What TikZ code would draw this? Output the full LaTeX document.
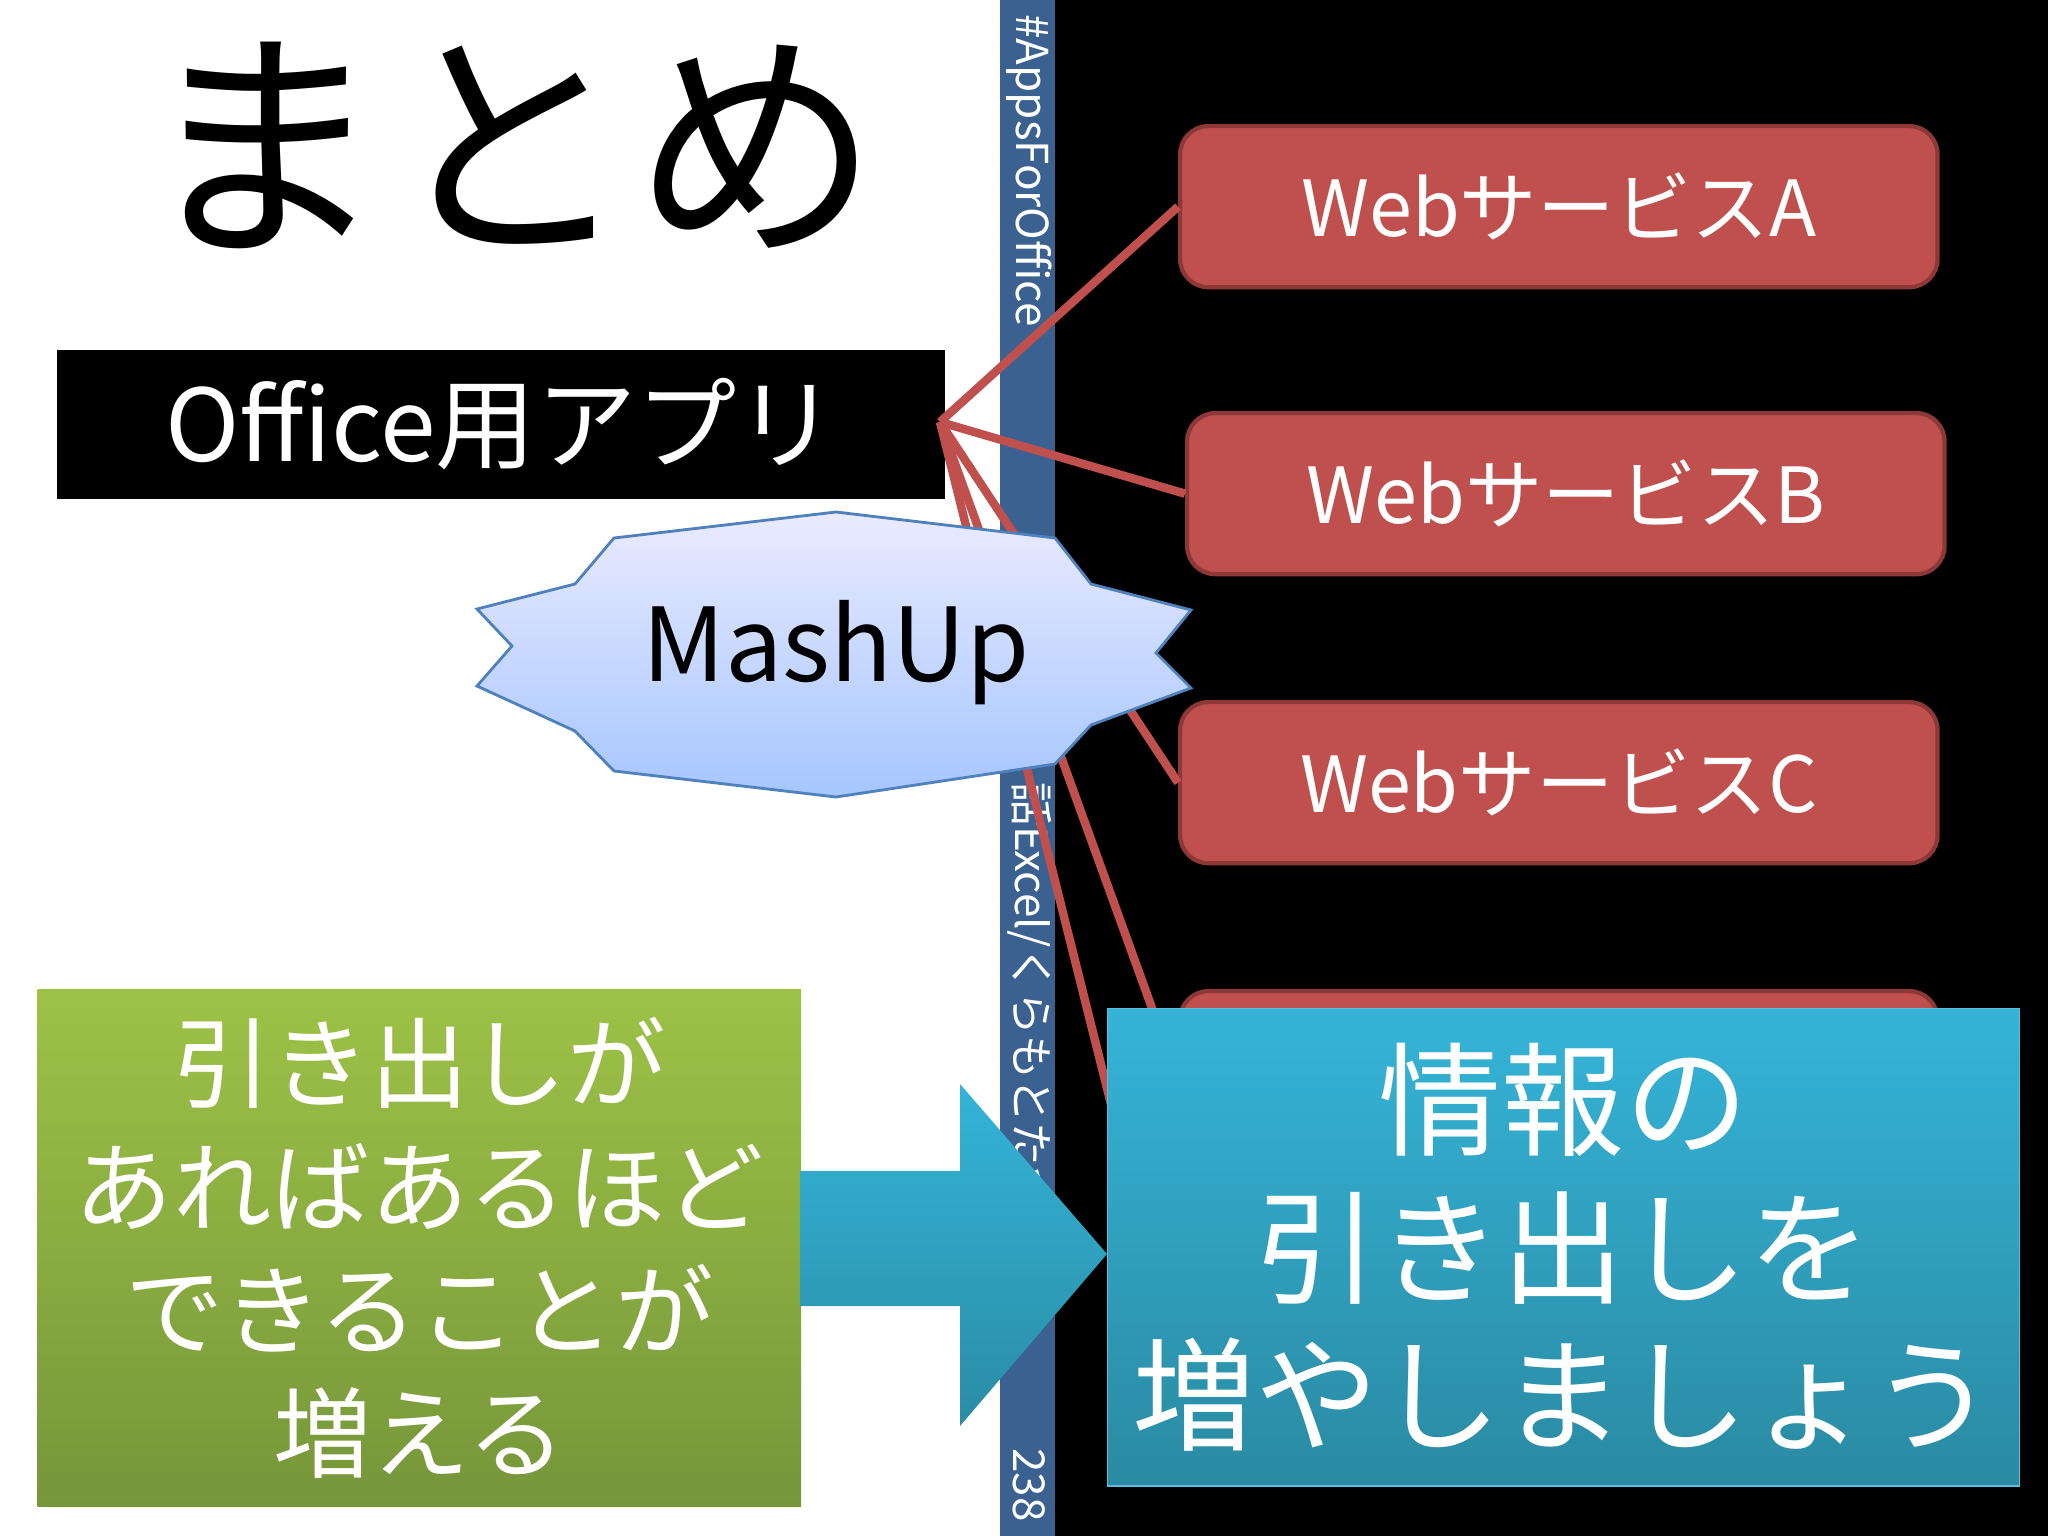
\documentclass[tikz,border=0pt]{standalone}
\usepackage{fontspec}
\setmainfont{Noto Sans CJK JP}
\begin{document}
\begin{tikzpicture}[x=0.01cm,y=-0.01cm,
  web/.style={draw=webedge,line width=1.2pt,fill=webred,rounded corners=8pt,minimum width=757\pxu,minimum height=161\pxu,text=white,font=\fontsize{22}{26}\selectfont,anchor=north west},
  link/.style={draw=webred,line width=2.4pt},
  striptext/.style={rotate=-90,text=white,font=\fontsize{12.5}{14}\selectfont}]
\def\pxu{*0.1mm}
\definecolor{webred}{HTML}{C0504D}
\definecolor{webedge}{HTML}{8C3836}
\definecolor{strip}{HTML}{3A6190}
\useasboundingbox (0,0) rectangle (2048,1536);
\fill[white] (0,0) rectangle (1000,1536);
\fill[strip] (1000,0) rectangle (1055,1536);
\fill[black] (1055,0) rectangle (2048,1536);
% strip texts
\node[striptext,anchor=west] (tag) at (1029,2) {\#AppsForOffice};
\node[striptext,anchor=west] (credit) at (1029,770) {話Excel/くらもとたつや (c)};
\node[striptext,anchor=east] (page) at (1029,1534) {238};
% title
\node[font=\fontsize{70}{74}\selectfont] (title) at (510,145) {まとめ};
% office box
\node[fill=black,text=white,minimum width=888\pxu,minimum height=149\pxu,anchor=north west,inner sep=0pt,font=\fontsize{28.5}{32}\selectfont] (office) at (56,349) {Office用アプリ};
\coordinate (hub) at (940,422);
% web boxes
\node[web] (wa) at (1178,124) {WebサービスA};
\node[web] (wb) at (1185,411) {WebサービスB};
\node[web] (wc) at (1178,700) {WebサービスC};
\node[web,minimum height=100\pxu] (wd) at (1178,989) {};
\coordinate (de) at (1178,1080);
\coordinate (ee) at (1135,1200);
\draw[link] (hub) -- (wa.west);
\draw[link] (hub) -- (wb.west);
\draw[link] (hub) -- (wc.west);
\draw[link] (hub) -- (de);
\draw[link] (hub) -- (ee);
% mashup
\shade[top color=blue!8!white,bottom color={rgb,255:red,165;green,198;blue,255},draw={rgb,255:red,79;green,129;blue,189},line width=0.8pt]
 (477,609)--(575,584)--(614,538)--(836,512)--(1055,538)--(1091,584)--(1191,610)--(1156,653)--(1191,688)--(1091,725)--(1055,764)--(836,797)--(614,771)--(575,731)--(477,686)--(512,646)--cycle;
\node[font=\fontsize{29}{33}\selectfont] (mash) at (836,653) {MashUp};
% green box
\node[anchor=north west,minimum width=763\pxu,minimum height=516\pxu,top color={rgb,255:red,157;green,194;blue,70},bottom color={rgb,255:red,118;green,150;blue,58},text=white,align=center,font=\fontsize{28}{35}\selectfont] (green) at (37,989) {引き出しが\\あればあるほど\\できることが\\増える};
% arrow
\shade[top color={rgb,255:red,52;green,180;blue,216},bottom color={rgb,255:red,42;green,140;blue,165}]
 (800,1171)--(960,1171)--(960,1084)--(1107,1254)--(960,1426)--(960,1306)--(800,1306)--cycle;
% result box
\node[anchor=north west,minimum width=911\pxu,minimum height=477\pxu,top color={rgb,255:red,53;green,180;blue,216},bottom color={rgb,255:red,42;green,138;blue,162},draw={rgb,255:red,90;green,190;blue,220},text=white,align=center,font=\fontsize{35}{42}\selectfont] (result) at (1107,1008) {情報の\\引き出しを\\増やしましょう};
\end{tikzpicture}
\end{document}
